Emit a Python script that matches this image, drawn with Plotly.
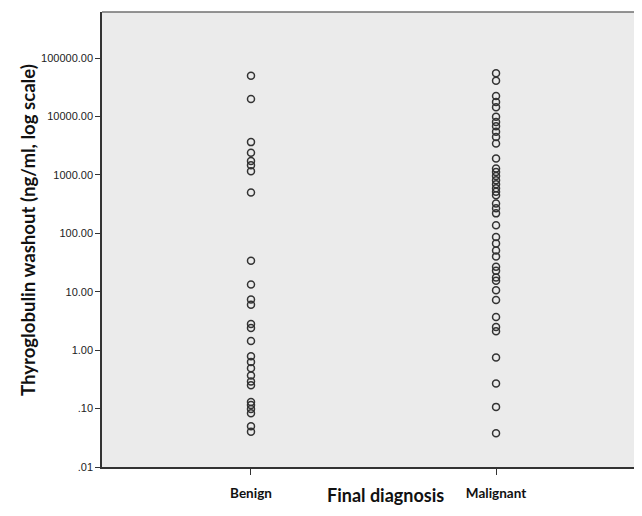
import plotly.graph_objects as go

categories = ["Benign", "Malignant"]

benign_values = [50000, 20000, 3650, 2400, 1740, 1470, 1160, 500,
                 34, 13.3, 7.4, 6.0, 2.8, 2.4, 1.44,
                 0.79, 0.63, 0.49, 0.37, 0.29, 0.25,
                 0.13, 0.115, 0.098, 0.083, 0.05, 0.04]

malignant_values = [55000, 41000, 22400, 17800, 14400,
                    9900, 8100, 6850, 5480, 4480, 3460, 1920,
                    1290, 1120, 960, 815, 695, 590, 515, 450,
                    325, 268, 220, 138, 87, 67, 51, 40,
                    26.7, 22.8, 17.5, 15.5, 10.6, 7.2,
                    3.7, 2.5, 2.1, 0.75, 0.27, 0.107, 0.038]

y_tickvals = [0.01, 0.1, 1, 10, 100, 1000, 10000, 100000]
y_ticktext = [".01", ".10", "1.00", "10.00", "100.00", "1000.00", "10000.00", "100000.00"]

x_title = "Final diagnosis"
y_title = "Thyroglobulin washout (ng/ml, log scale)"

marker_style = dict(symbol="circle-open", size=7, color="#333333",
                    line=dict(width=1.5, color="#333333"))

fig = go.Figure()
fig.add_trace(go.Scatter(x=[categories[0]] * len(benign_values), y=benign_values,
                         mode="markers", marker=marker_style, showlegend=False))
fig.add_trace(go.Scatter(x=[categories[1]] * len(malignant_values), y=malignant_values,
                         mode="markers", marker=marker_style, showlegend=False))

bold_font = "Lato, Carlito, sans-serif"

fig.update_layout(
    width=626, height=500,
    margin=dict(l=94, r=0, t=4, b=41),
    paper_bgcolor="white",
    plot_bgcolor="#ebebeb",
    font=dict(family="Liberation Sans, Arial", color="#222"),
    shapes=[dict(type="line", xref="paper", yref="paper", x0=0, x1=1, y0=1, y1=1,
                 line=dict(color="#707070", width=1.5))],
    annotations=[
        dict(text=x_title, xref="paper", yref="paper", x=0.532, y=-0.062,
             xanchor="center", yanchor="middle", showarrow=False,
             font=dict(family=bold_font, size=18, color="#111", weight="bold")),
        dict(text=y_title, xref="paper", yref="paper", x=-0.139, y=0.521,
             xanchor="center", yanchor="middle", textangle=-90, showarrow=False,
             font=dict(family=bold_font, size=18.6, color="#111", weight="bold")),
    ],
)

fig.update_xaxes(
    type="category",
    categoryorder="array", categoryarray=categories,
    range=[-0.608, 1.563],
    showgrid=False, zeroline=False,
    showline=True, linecolor="#333", linewidth=1.5,
    ticks="outside", ticklen=6, tickcolor="#333", tickwidth=1.2,
    ticklabelstandoff=7,
    tickfont=dict(family=bold_font, size=13.5, color="#111", weight="bold"),
)

fig.update_yaxes(
    type="log",
    range=[-2, 5.79],
    tickvals=y_tickvals, ticktext=y_ticktext,
    showgrid=False, zeroline=False,
    showline=True, linecolor="#333", linewidth=1.5,
    ticks="outside", ticklen=5, tickcolor="#333", tickwidth=1.2,
    tickfont=dict(family="Liberation Sans, Arial", size=11, color="#222"),
)

fig.write_html("out.html")
